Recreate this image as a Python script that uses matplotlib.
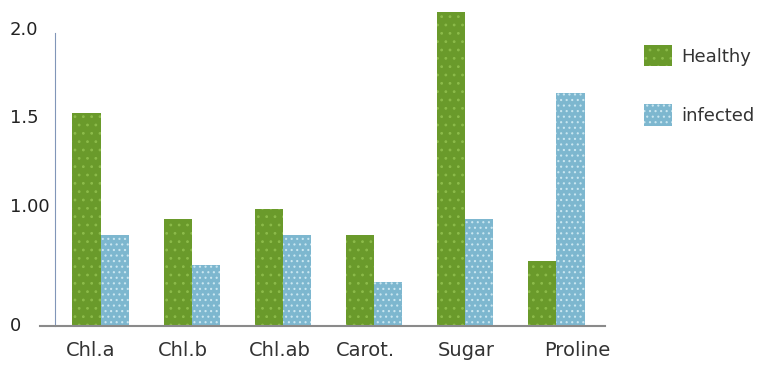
import matplotlib.pyplot as plt
import matplotlib.transforms as mtransforms
import numpy as np

categories = ['Chl.a', 'Chl.b', 'Chl.ab', 'Carot.', 'Sugar', 'Proline']
healthy = [1.44, 0.72, 0.79, 0.615, 2.12, 0.44]
infected = [0.615, 0.41, 0.615, 0.30, 0.72, 1.57]
ytick_pos = [0, 0.80, 1.405, 2.0]
ytick_labels = ['0', '1.00', '1.5', '2.0']

green = '#6a9a2b'
blue = '#7db7cf'
plt.rcParams['hatch.linewidth'] = 0.8

fig = plt.figure(figsize=(7.63, 3.65), dpi=100)
ax = fig.add_axes([40 / 763, 1 - 326 / 365, 565 / 763, 326 / 365])

x = np.arange(len(categories))
w = 0.31
ax.bar(x - w / 2, healthy, w, color=green, edgecolor='#8cbb4a', linewidth=0, hatch='..', label='Healthy')
ax.bar(x + w / 2, infected, w, color=blue, edgecolor='#c9e6f0', linewidth=0, hatch='...', label='infected')

ax.set_xlim(-0.666, len(categories) - 0.466)
ax.set_ylim(0, 2.2)

# labels in the original sit a little off the group centres
label_shift = np.array([-10, -9, -3, -9, 1, 21]) / 91
ax.set_xticks(x + label_shift)
ax.set_xticklabels(categories)
ax.tick_params(axis='x', length=0, labelsize=14, pad=11, labelcolor='#333333')

# y labels are left aligned at the figure edge
ax.set_yticks([])
trans = mtransforms.blended_transform_factory(fig.transFigure, ax.transData)
for pos, lab in zip(ytick_pos, ytick_labels):
    ax.text(10 / 763, pos, lab, transform=trans, ha='left', va='center', fontsize=13, color='#222222')

for s in ['top', 'right']:
    ax.spines[s].set_visible(False)
ax.spines['left'].set_position(('axes', 15 / 565))
ax.spines['left'].set_bounds(0, 1.98)
ax.spines['left'].set_color('#8196b8')
ax.spines['bottom'].set_color('#8a8a8a')
ax.spines['bottom'].set_linewidth(1.5)

leg = fig.legend(loc='upper left', bbox_to_anchor=(635 / 763, 1 - 36 / 365), frameon=False, borderpad=0,
                 fontsize=13, handlelength=1.55, handleheight=1.45, labelspacing=2.1, handletextpad=0.5)
for t in leg.get_texts():
    t.set_color('#333333')

fig.savefig('out.png', dpi=100)
